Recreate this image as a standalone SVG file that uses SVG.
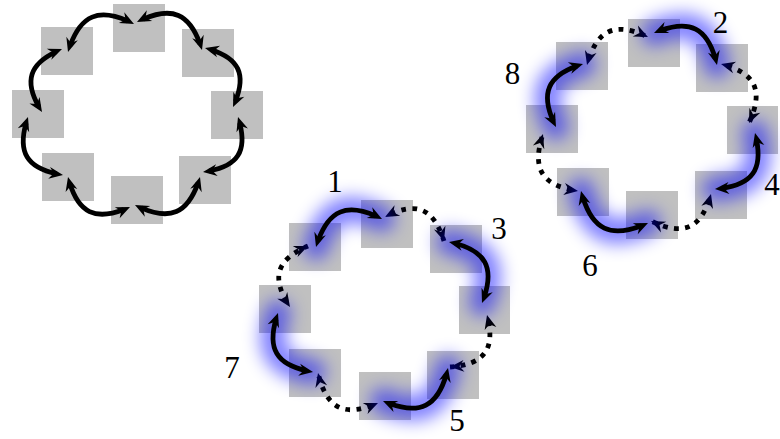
<svg xmlns="http://www.w3.org/2000/svg" width="780" height="439" viewBox="0 0 780 439">
<style>
.sq{fill:#c0c0c0;stroke:none}
.arc{fill:none;stroke:#000;stroke-width:4.8;marker-start:url(#ah);marker-end:url(#ah);stroke-dasharray:0 7.5 85 100}
.dot{fill:none;stroke:#000;stroke-width:4.8;stroke-dasharray:4.8 6.4;stroke-dashoffset:4.8;marker-start:url(#ah);marker-end:url(#ah)}
.gl{fill:none;stroke:#0000ff;stroke-width:26;stroke-linecap:round}
.lbl{font-family:"Liberation Serif","Times New Roman",serif;font-size:31px;fill:#000;text-anchor:middle}
</style>
<defs>
<marker id="ah" markerUnits="userSpaceOnUse" markerWidth="16" markerHeight="14" refX="0" refY="0" orient="auto-start-reverse" style="overflow:visible">
<path d="M0,0 L-14,-6 L-9.5,0 L-14,6 Z" fill="#000"/>
</marker>
<filter id="blur" x="-50%" y="-50%" width="200%" height="200%">
<feGaussianBlur stdDeviation="8.5"/>
</filter>
</defs>
<g id="nodes">
<g id="r1n0"><rect class="sq" x="113" y="4" width="52" height="48"/></g>
<g id="r1n1"><rect class="sq" x="182" y="29" width="52" height="48"/></g>
<g id="r1n2"><rect class="sq" x="211" y="91" width="52" height="48"/></g>
<g id="r1n3"><rect class="sq" x="179" y="156" width="52" height="48"/></g>
<g id="r1n4"><rect class="sq" x="111" y="176" width="52" height="48"/></g>
<g id="r1n5"><rect class="sq" x="42" y="153" width="52" height="48"/></g>
<g id="r1n6"><rect class="sq" x="12" y="90" width="52" height="48"/></g>
<g id="r1n7"><rect class="sq" x="41" y="27" width="52" height="48"/></g>
<g id="r2n0"><rect class="sq" x="628" y="19" width="52" height="48"/></g>
<g id="r2n1"><rect class="sq" x="696" y="44" width="52" height="48"/></g>
<g id="r2n2"><rect class="sq" x="727" y="106" width="51" height="48"/></g>
<g id="r2n3"><rect class="sq" x="695" y="171" width="52" height="48"/></g>
<g id="r2n4"><rect class="sq" x="626" y="191" width="52" height="48"/></g>
<g id="r2n5"><rect class="sq" x="557" y="168" width="52" height="48"/></g>
<g id="r2n6"><rect class="sq" x="526" y="105" width="52" height="48"/></g>
<g id="r2n7"><rect class="sq" x="556" y="42" width="52" height="48"/></g>
<g id="r3n0"><rect class="sq" x="361" y="200" width="52" height="48"/></g>
<g id="r3n1"><rect class="sq" x="430" y="225" width="52" height="48"/></g>
<g id="r3n2"><rect class="sq" x="459" y="286" width="51" height="48"/></g>
<g id="r3n3"><rect class="sq" x="427" y="351" width="52" height="48"/></g>
<g id="r3n4"><rect class="sq" x="359" y="372" width="52" height="48"/></g>
<g id="r3n5"><rect class="sq" x="289" y="349" width="52" height="48"/></g>
<g id="r3n6"><rect class="sq" x="259" y="285" width="52" height="48"/></g>
<g id="r3n7"><rect class="sq" x="289" y="223" width="52" height="48"/></g>
</g>
<g id="connectors">
<g id="ring1-arcs">
<path class="arc" pathLength="100" d="M137,22 C171.8,4.5 190.8,12.7 202,50"/>
<path class="arc" pathLength="100" d="M205,48 C239.8,57.1 248,74.3 233,107"/>
<path class="arc" pathLength="100" d="M238,117 C248.8,151.2 238.5,167.3 203,172"/>
<path class="arc" pathLength="100" d="M200,177 C188.8,214.3 169.8,222.5 135,205"/>
<path class="arc" pathLength="100" d="M130,207 C95.4,222.5 77.3,213.7 68,177"/>
<path class="arc" pathLength="100" d="M63,175 C26.2,169.3 15.9,152.3 28,117"/>
<path class="arc" pathLength="100" d="M42,112 C22.5,81.3 28.4,62.8 62,49"/>
<path class="arc" pathLength="100" d="M68,52 C79.5,14.3 98.9,6.1 134,24"/>
</g>
<g id="dotted-arcs">
<path class="dot" d="M721,64 C755.8,73.1 764,90.3 749,123"/>
<path class="dot" d="M711,194 C701.2,228.8 683.6,236.7 651,221"/>
<path class="dot" d="M578,191 C541.6,185.6 531.4,168.9 543,134"/>
<path class="dot" d="M587,65 C596.8,29.4 614.6,21.2 648,37"/>
<path class="dot" d="M385,217 C416,200.6 433.3,207.7 444,241"/>
<path class="dot" d="M487,315 C495.8,349 485,364.2 450,367"/>
<path class="dot" d="M378,403 C344.2,417.7 326.6,408.9 318,373"/>
<path class="dot" d="M290,307 C270.7,277.9 275.9,260 308,246"/>
</g>
<g id="glow" filter="url(#blur)" opacity="0.5">
<path class="gl" d="M654,33 C689.8,17.8 708.2,27.2 717,65"/>
<path class="gl" d="M755,133 C764.5,169.7 752.7,186.1 715,189"/>
<path class="gl" d="M648,223 C610.8,239.9 591.2,230.5 581,191"/>
<path class="gl" d="M556,127 C539,93.4 546.9,74.9 583,64"/>
<path class="gl" d="M449,242 C486.4,249.7 496,267.5 482,303"/>
<path class="gl" d="M448,368 C438.9,407.1 419.9,416.7 383,401"/>
<path class="gl" d="M313,372 C275.8,365.9 265.5,348.6 278,313"/>
<path class="gl" d="M316,247 C327.5,209.3 346.9,201.1 382,219"/>
</g>
<g id="solid-arcs">
<path class="arc" pathLength="100" d="M654,33 C689.8,17.8 708.2,27.2 717,65"/>
<path class="arc" pathLength="100" d="M755,133 C764.5,169.7 752.7,186.1 715,189"/>
<path class="arc" pathLength="100" d="M648,223 C610.8,239.9 591.2,230.5 581,191"/>
<path class="arc" pathLength="100" d="M556,127 C539,93.4 546.9,74.9 583,64"/>
<path class="arc" pathLength="100" d="M449,242 C486.4,249.7 496,267.5 482,303"/>
<path class="arc" pathLength="100" d="M448,368 C438.9,407.1 419.9,416.7 383,401"/>
<path class="arc" pathLength="100" d="M313,372 C275.8,365.9 265.5,348.6 278,313"/>
<path class="arc" pathLength="100" d="M316,247 C327.5,209.3 346.9,201.1 382,219"/>
</g>
</g>
<g id="labels">
<text class="lbl" x="335" y="192">1</text>
<text class="lbl" x="720.5" y="33">2</text>
<text class="lbl" x="499" y="239">3</text>
<text class="lbl" x="772" y="195">4</text>
<text class="lbl" x="457" y="431">5</text>
<text class="lbl" x="590" y="276">6</text>
<text class="lbl" x="232" y="378">7</text>
<text class="lbl" x="512.5" y="84">8</text>
</g>
</svg>
